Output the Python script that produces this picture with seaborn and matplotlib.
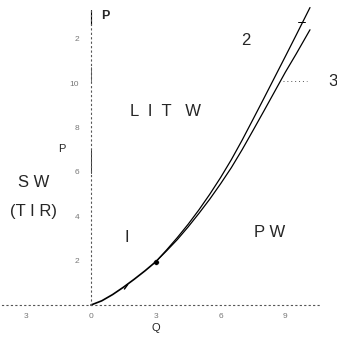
"""Phase diagram in the (Q, P) plane: SW / LIT W / PW regions."""

import numpy as np
import pandas as pd
import matplotlib
matplotlib.use("Agg")
import matplotlib.pyplot as plt
import seaborn as sns

# common boundary from the origin up to the branching point
q_common = [0.0, 0.5, 1.0, 1.5, 2.0, 2.5, 3.0]
p_common = [0.0, 0.19, 0.47, 0.8, 1.16, 1.54, 1.95]

# branch 2 (upper)
q_branch2 = [3.0, 3.5, 4.0, 4.5, 5.0, 5.5, 6.0, 6.5, 7.0, 7.5, 8.0, 8.5, 9.0, 9.5, 10.14]
p_branch2 = [1.95, 2.48, 3.04, 3.64, 4.29, 4.99, 5.74, 6.55, 7.43, 8.36, 9.30, 10.25, 11.20, 12.16, 13.4]

# branch 3 (lower)
q_branch3 = [3.0, 3.5, 4.0, 4.5, 5.0, 5.5, 6.0, 6.5, 7.0, 7.5, 8.0, 8.5, 9.0, 9.5, 10.14]
p_branch3 = [1.95, 2.44, 2.95, 3.52, 4.13, 4.77, 5.46, 6.19, 7.0, 7.86, 8.73, 9.61, 10.49, 11.31, 12.4]

branch_point = (3.0, 1.95)

x_ticks = [-3, 0, 3, 6, 9]
x_tick_labels = ["3", "0", "3", "6", "9"]
y_ticks = [2, 4, 6, 8, 10, 12]
y_tick_labels = ["2", "4", "6", "8", "10", "2"]

sns.set_style("white")
plt.rcParams["font.family"] = ["Liberation Sans", "DejaVu Sans"]

fig = plt.figure(figsize=(3.37, 3.39), dpi=100)
ax = fig.add_axes([0, 0, 1, 1])
ax.set_xlim(-4.21, 11.39)
ax.set_ylim(-1.53, 13.74)

common = pd.DataFrame({"Q": q_common, "P": p_common})
b2 = pd.DataFrame({"Q": q_branch2, "P": p_branch2})
b3 = pd.DataFrame({"Q": q_branch3, "P": p_branch3})
for df, lw in [(common, 1.2), (b2, 0.9), (b3, 0.9)]:
    sns.lineplot(data=df, x="Q", y="P", sort=False, color="black", lw=lw, ax=ax)
sns.scatterplot(x=[branch_point[0]], y=[branch_point[1]], color="black", s=16, ax=ax)

# axes through the origin, dotted like the scanned original
for side in ["top", "right"]:
    ax.spines[side].set_visible(False)
for side in ["left", "bottom"]:
    ax.spines[side].set_position("zero")
    ax.spines[side].set_linestyle((0, (1, 3)))
    ax.spines[side].set_color("#555555")
    ax.spines[side].set_linewidth(0.8)
ax.spines["left"].set_bounds(0, 13.3)
ax.spines["bottom"].set_bounds(-4.1, 10.6)

ax.set_xticks(x_ticks)
ax.set_xticklabels(x_tick_labels)
ax.set_yticks(y_ticks)
ax.set_yticklabels(y_tick_labels)
ax.tick_params(axis="both", labelsize=6, labelcolor="#777777", colors="#555555",
               length=3, width=0.6, direction="inout")
ax.tick_params(axis="x", pad=4)
ax.tick_params(axis="y", pad=7)
ax.set_xlabel("")
ax.set_ylabel("")

# short leader for curve 3 and marks on the curves
ax.plot([8.9, 10.0], [10.1, 10.1], color="#555555", lw=0.7, ls=(0, (1, 3)))
ax.plot([9.6, 9.9], [12.75, 12.75], color="black", lw=0.7)
ax.plot([1.55, 1.7], [0.72, 0.92], color="black", lw=1.0)

# arrow at top of P axis and the solid bits of the scanned axis
ax.plot([0, 0], [12.6, 13.3], color="black", lw=0.8)
ax.plot([0, 0], [5.95, 7.0], color="#333333", lw=0.7)
ax.plot([0, 0], [10.1, 10.7], color="#555555", lw=0.6)

ax.text(0.65, 13.0, "P", fontsize=9, fontweight="bold", ha="center", va="center")
ax.text(-1.35, 7.05, "P", fontsize=8, ha="center", va="center")
ax.text(3.0, -1.05, "Q", fontsize=8, ha="center", va="center")
ax.text(-2.65, 5.5, "S W", fontsize=12, ha="center", va="center")
ax.text(-2.65, 4.2, "(T I R)", fontsize=12, ha="center", va="center")
ax.text(3.45, 8.7, "L  I  T   W", fontsize=12, ha="center", va="center")
ax.text(7.15, 11.9, "2", fontsize=12, ha="center", va="center")
ax.text(11.2, 10.05, "3", fontsize=12, ha="center", va="center")
ax.text(1.65, 3.05, "I", fontsize=12, ha="center", va="center")
ax.text(8.25, 3.25, "P W", fontsize=12, ha="center", va="center")

fig.savefig("out.png", dpi=100)
plt.close(fig)
